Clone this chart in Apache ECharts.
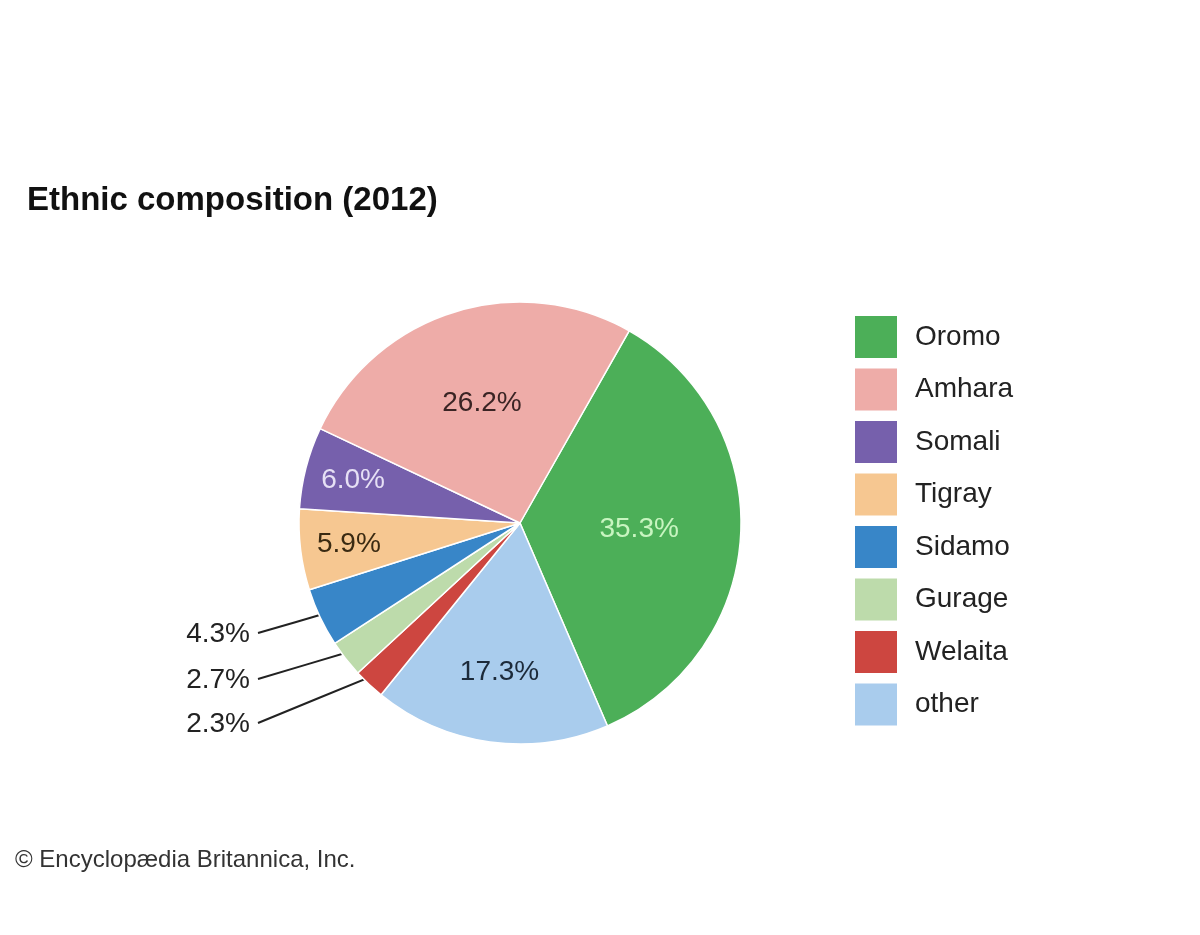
<!DOCTYPE html>
<html>
<head>
<meta charset="utf-8">
<script src="https://cdn.jsdelivr.net/npm/echarts@6/dist/echarts.min.js"></script>
<style>
html,body{margin:0;padding:0;background:#fff;}
#chart{width:1200px;height:935px;}
</style>
</head>
<body>
<div id="chart"></div>
<script>
// ---- data ----
const categories = ['Oromo', 'other', 'Welaita', 'Gurage', 'Sidamo', 'Tigray', 'Somali', 'Amhara'];
const values = [35.3, 17.3, 2.3, 2.7, 4.3, 5.9, 6.0, 26.2];
const legendOrder = ['Oromo', 'Amhara', 'Somali', 'Tigray', 'Sidamo', 'Gurage', 'Welaita', 'other'];
const labelTexts = ['35.3%', '17.3%', '2.3%', '2.7%', '4.3%', '5.9%', '6.0%', '26.2%'];

// ---- styles ----
const sliceColors = {
  Oromo: '#4caf58', other: '#a9cced', Welaita: '#cd4640', Gurage: '#bddbab',
  Sidamo: '#3886c8', Tigray: '#f6c791', Somali: '#7660ac', Amhara: '#eeaca8'
};
const labelColors = {
  Oromo: '#c8f5c0', other: '#1c2a3a', Welaita: '#222', Gurage: '#222',
  Sidamo: '#222', Tigray: '#3a2a12', Somali: '#e6e0f5', Amhara: '#3a2424'
};
const innerLabelRadius = { Oromo: 0.54, other: 0.68, Somali: 0.78, Tigray: 0.78, Amhara: 0.57 };
const outerLabelOffsetY = { Sidamo: 110, Gurage: 156, Welaita: 200 };
const CX = 520, CY = 523, R = 221, START = 29.6; // start angle clockwise from top (deg)
const FONT = '"Liberation Sans", Arial, Helvetica, sans-serif';

const total = values.reduce((a, b) => a + b, 0);
function midAngle(i) {
  let cum = 0;
  for (let k = 0; k < i; k++) cum += values[k];
  return (START + (cum + values[i] / 2) / total * 360) * Math.PI / 180;
}

const chart = echarts.init(document.getElementById('chart'));
chart.setOption({
  animation: false,
  title: [
    { text: 'Ethnic composition (2012)', left: 27, top: 184, padding: 0,
      textStyle: { fontFamily: FONT, fontSize: 33, fontWeight: 'bold', color: '#111' } },
    { text: '© Encyclopædia Britannica, Inc.', left: 15, top: 848, padding: 0,
      textStyle: { fontFamily: FONT, fontSize: 24, fontWeight: 'normal', color: '#333' } }
  ],
  legend: {
    orient: 'vertical', left: 855, top: 316, padding: 0,
    itemWidth: 42, itemHeight: 42, itemGap: 10.5, icon: 'rect',
    data: legendOrder,
    selectedMode: false,
    itemStyle: { borderWidth: 0 },
    textStyle: { fontFamily: FONT, fontSize: 28, color: '#222', padding: [0, 0, 0, 13] }
  },
  series: [{
    type: 'pie',
    center: [CX, CY],
    radius: R,
    startAngle: 90 - START,
    clockwise: true,
    avoidLabelOverlap: false,
    silent: true,
    itemStyle: { borderColor: '#fff', borderWidth: 1.5 },
    data: categories.map((name, i) => {
      const outer = outerLabelOffsetY[name] != null;
      return {
        name, value: values[i],
        itemStyle: { color: sliceColors[name] },
        label: {
          show: true,
          position: outer ? 'outside' : 'inside',
          formatter: labelTexts[i],
          fontFamily: FONT, fontSize: 28,
          color: labelColors[name]
        },
        labelLine: { show: outer, lineStyle: { color: '#222', width: 2 } }
      };
    }),
    labelLayout: function (params) {
      const i = params.dataIndex;
      const name = categories[i];
      const a = midAngle(i);
      const sx = Math.sin(a), sy = -Math.cos(a);
      if (outerLabelOffsetY[name] != null) {
        const y = CY + outerLabelOffsetY[name];
        const ex = CX + R * 0.93 * sx, ey = CY + R * 0.93 * sy;
        const lx = CX - 262;
        return {
          x: CX - 270, y: y + 1, align: 'right', verticalAlign: 'middle',
          labelLinePoints: [[ex, ey], [(ex + lx) / 2, (ey + y) / 2], [lx, y]]
        };
      }
      const f = innerLabelRadius[name];
      return { x: CX + R * f * sx, y: CY + R * f * sy, align: 'center', verticalAlign: 'middle' };
    }
  }]
});
</script>
</body>
</html>
